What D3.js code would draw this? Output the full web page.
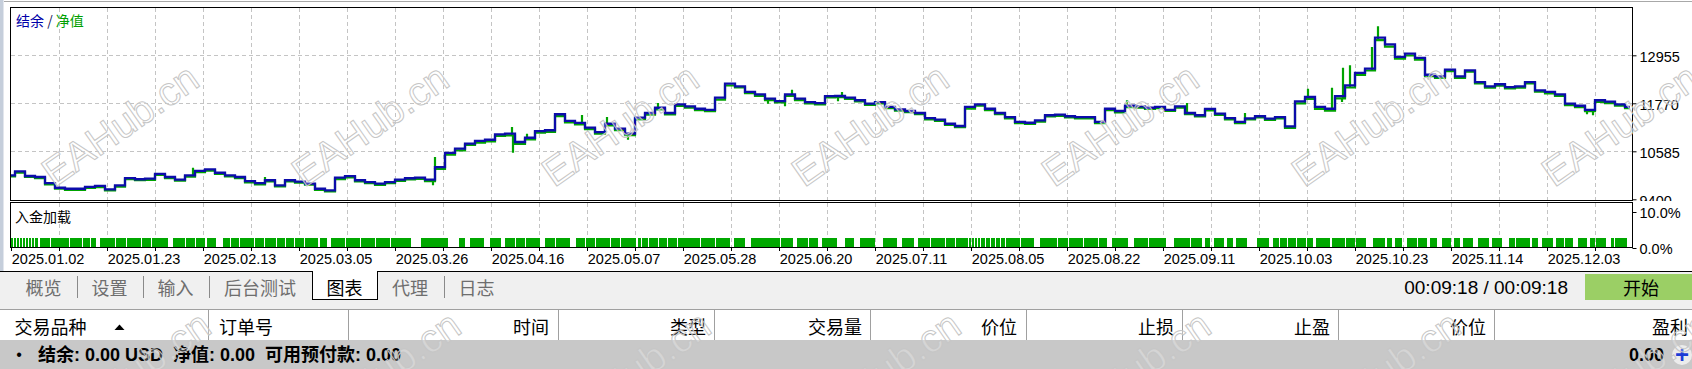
<!DOCTYPE html>
<html><head><meta charset="utf-8">
<script src="https://cdn.jsdelivr.net/npm/d3@7"></script>
<style>
html,body{margin:0;padding:0;background:#fff;}
svg{display:block;}
</style></head><body>
<svg id="c" width="1692" height="369"></svg>
<script>
// ---------- data ----------
const balance = [9990,10090,9975,9950,9800,9685,9660,9660,9705,9730,
9645,9745,9925,9895,9910,10030,9950,9885,9990,10100,
10140,10055,9990,9950,9850,9800,9870,9745,9870,9835,
9785,9660,9620,9935,9970,9870,9825,9785,9825,9885,
9920,9935,9885,10195,10545,10650,10775,10840,10870,11005,
11020,10815,10920,11085,11105,11500,11335,11285,11170,11060,
11265,11145,11020,11415,11530,11660,11530,11745,11695,11635,
11610,11910,12255,12190,12050,11990,11885,11825,11990,11885,
11800,11775,11945,11950,11910,11845,11760,11800,11680,11620,
11580,11530,11405,11365,11265,11210,11680,11745,11635,11530,
11430,11310,11290,11350,11475,11490,11450,11430,11430,11310,
11635,11580,11710,11695,11660,11680,11610,11695,11530,11475,
11630,11515,11405,11310,11400,11450,11390,11430,11200,11820,
11925,11680,11635,11945,12215,12520,12625,13390,13225,12915,
12995,12890,12475,12435,12600,12435,12585,12295,12190,12240,
12170,12190,12295,12090,12050,11990,11760,11710,11610,11845,
11810,11745,11680];
const equity = [9965,10060,9950,9925,9770,9660,9635,9635,9680,9700,
9620,9715,9895,9870,9880,10000,9925,9860,9960,10070,
10110,10030,9965,9925,9820,9770,9840,9720,9840,9810,
9760,9630,9595,9900,9940,9845,9800,9755,9800,9855,
9890,9905,9850,10150,10500,10610,10740,10800,10830,10965,
10980,10770,10880,11045,11065,11455,11300,11250,11130,11020,
11225,11110,10985,11370,11490,11620,11495,11705,11660,11600,
11575,11860,12210,12160,12020,11955,11850,11790,11955,11850,
11770,11745,11915,11920,11880,11815,11730,11770,11650,11590,
11550,11500,11375,11335,11235,11180,11640,11710,11600,11500,
11400,11280,11260,11320,11445,11460,11420,11400,11400,11280,
11600,11545,11675,11665,11630,11650,11580,11665,11500,11445,
11595,11485,11375,11280,11370,11420,11360,11400,11165,11770,
11880,11630,11590,11890,12160,12470,12580,13330,13170,12870,
12950,12850,12440,12400,12565,12400,12550,12260,12155,12205,
12135,12155,12260,12055,12015,11955,11725,11675,11575,11805,
11775,11710,11650];
const sampleStep = 10;          // deal-axis units between samples
const equitySpikes = [[183,10180],[255,9950],[423,9745],[425,10444],[502,11185],[503,10550],
[517,11020],[572,11481],[597,11432],[618,10871],[648,11777],[758,11760],[775,11696],[777,11943],
[782,12106],[828,11819],[832,12049],[1117,11844],[1177,11777],[1235,11530],[1298,12130],
[1322,12155],[1333,12649],[1332,11802],[1340,12708],[1362,13160],[1368,13671],[1577,11498],[1583,11474]];

const loadLevel = 2.9;
const loadRange = [0.7, 1617];
const loadGaps = [[3,4],[6,7],[9,10],[12,13],[15,16],[18,19],[21,22],[24,25],[28,30],
[40,41],[59,60],[72,73],[80,81],[86,89.5],[105,106],[116,117],[131,132],[141,142],[158,163],
[175,176],[185,186],[195,197],[206,213],[220,221],[229,230],[244,245],[254,255],[266,267],
[275,276],[284,285],[294,295],[308,310],[317,321],[335,336],[350,351],[365,366],[380,381],
[401,411],[438,449],[455,460],[474,480],[491,495],[505,506],[515,516],[530,535],[545,546],
[560,566],[575,576],[585,586],[600,601],[610,611],[626,628],[631,632],[638,639],[648,649],
[657,658],[667,668],[690,691],[705,706],[720,724],[735,741],[770,771],[783,787],[798,799],
[808,812],[827,835],[844,850],[865,873],[887,892],[904,908],[920,921],[935,936],[945,946],
[958,959],[961,962],[964,965],[967,968],[970,971],[975,976],[980,981],[985,986],[990,991],
[995,996],[1010,1011],[1024,1030],[1047,1048],[1058,1059],[1073,1074],[1088,1089],[1097,1102],
[1118,1124],[1138,1139],[1156,1164],[1180,1181],[1192,1195],[1200,1204],[1214,1217],[1223,1226],
[1237,1247],[1259,1263],[1269,1270],[1277,1278],[1286,1287],[1296,1297],[1303,1306],[1320,1322],
[1335,1336],[1345,1346],[1356,1363],[1375,1377],[1382,1385],[1392,1397],[1407,1408],[1417,1420],
[1427,1432],[1441,1444],[1450,1453],[1463,1468],[1479,1482],[1492,1499],[1505,1506],[1520,1522],
[1528,1532],[1543,1546],[1554,1555],[1563,1568],[1577,1580],[1585,1586],[1596,1601],[1604,1605]];

const dateLabels = ["2025.01.02","2025.01.23","2025.02.13","2025.03.05","2025.03.26","2025.04.16",
"2025.05.07","2025.05.28","2025.06.20","2025.07.11","2025.08.05","2025.08.22","2025.09.11",
"2025.10.03","2025.10.23","2025.11.14","2025.12.03"];
const dateTickStart = 1.3, dateTickEvery = 48, dateTickCount = 34;
const priceTicks = [9400, 10585, 11770, 12955];
const loadTicks = [0, 10];
const tabs = ["概览","设置","输入","后台测试","图表","代理","日志"];
const activeTab = "图表";
const timerText = "00:09:18 / 00:09:18";
const startLabel = "开始";
const columns = ["交易品种","订单号","时间","类型","交易量","价位","止损","止盈","价位","盈利"];
const statusText = "结余: 0.00 USD  净值: 0.00  可用预付款: 0.00";
const profitText = "0.00";
const watermark = "EAHub.cn";

// ---------- drawing ----------
const svg = d3.select("#c");
const W = 1692, H = 369;
const L = 10.5, R = 1632.5, T = 7.5, B = 200.5;   // main pane
const PT = 202.5, PB = 247.5;                     // load pane
const BLUE = "#0c0caa", GREEN = "#00a300";
const CJK = "'Noto Sans CJK SC', sans-serif";
const LAT = "'Liberation Sans', 'Noto Sans CJK SC', sans-serif";

const x = d3.scaleLinear().domain([0, 1620]).range([10, 1630]);
const y = d3.scaleLinear().domain([9400, 12955]).range([199.3, 55.3]);
const yl = d3.scaleLinear().domain([0, 10]).range([248, 212]);
const tickT = d3.range(dateTickCount).map(i => dateTickStart + dateTickEvery * i);

// window chrome
svg.append("rect").attr("x",0).attr("y",0).attr("width",W).attr("height",H).attr("fill","#fff");
svg.append("rect").attr("x",0).attr("y",0).attr("width",3.5).attr("height",309).attr("fill","#c5cedb");
svg.append("line").attr("x1",4).attr("x2",W).attr("y1",1.5).attr("y2",1.5).attr("stroke","#a8a8a8");

const defs = svg.append("defs");
defs.append("clipPath").attr("id","mainClip").append("rect")
  .attr("x",L).attr("y",T).attr("width",R-L).attr("height",B-T);
defs.append("clipPath").attr("id","axClip").append("rect")
  .attr("x",R).attr("y",0).attr("width",W-R).attr("height",201);

// grids
const grid = svg.append("g").attr("stroke","#c4c4c4").attr("stroke-dasharray","4,3")
  .attr("shape-rendering","crispEdges");
grid.selectAll(".vg").data(tickT.slice(1)).join("line")
  .attr("x1",d=>Math.round(x(d))+0.5).attr("x2",d=>Math.round(x(d))+0.5)
  .attr("y1",T).attr("y2",B);
grid.selectAll(".vg2").data(tickT.slice(1)).join("line").attr("class","vg2")
  .attr("x1",d=>Math.round(x(d))+0.5).attr("x2",d=>Math.round(x(d))+0.5)
  .attr("y1",PT).attr("y2",PB);
grid.selectAll(".hg").data(priceTicks.slice(1)).join("line").attr("class","hg")
  .attr("x1",L).attr("x2",R)
  .attr("y1",d=>Math.round(y(d))+0.5).attr("y2",d=>Math.round(y(d))+0.5);

// lines
const plot = svg.append("g").attr("clip-path","url(#mainClip)");
const line = d3.line().x((d,i)=>x(i*sampleStep)).y(d=>y(d)).curve(d3.curveStep);
plot.append("path").datum(equity).attr("d",line).attr("fill","none")
  .attr("stroke",GREEN).attr("stroke-width",2.2);
plot.selectAll(".sp").data(equitySpikes).join("line")
  .attr("x1",d=>x(d[0])).attr("x2",d=>x(d[0]))
  .attr("y1",d=>y(equity[Math.min(equity.length-1,Math.round(d[0]/sampleStep))]))
  .attr("y2",d=>y(d[1]))
  .attr("stroke",GREEN).attr("stroke-width",2.2);
plot.append("path").datum(balance).attr("d",line).attr("fill","none")
  .attr("stroke",BLUE).attr("stroke-width",2.3).attr("stroke-linejoin","miter");

// legend
const leg = svg.append("text").attr("x",16).attr("y",20).attr("dominant-baseline","central")
  .attr("font-family",CJK).attr("font-size",14);
leg.append("tspan").attr("fill","#0000a8").text("结余");
leg.append("tspan").attr("fill","#202060").text(" / ");
leg.append("tspan").attr("fill","#00a000").text("净值");

// load bars
const segs = []; let cur = loadRange[0];
loadGaps.forEach(([a,b]) => { if (a > cur) segs.push([cur,a]); cur = Math.max(cur,b); });
if (cur < loadRange[1]) segs.push([cur, loadRange[1]]);
svg.append("g").attr("shape-rendering","crispEdges").selectAll("rect").data(segs).join("rect")
  .attr("x",d=>x(d[0])).attr("width",d=>Math.max(0.8,x(d[1])-x(d[0])))
  .attr("y",yl(loadLevel)).attr("height",yl(0)-yl(loadLevel)-0.5).attr("fill","#00a800");

svg.append("text").attr("x",15).attr("y",216).attr("dominant-baseline","central")
  .attr("font-family",CJK).attr("font-size",14).attr("fill","#000").text("入金加载");

// frames
svg.append("rect").attr("x",L).attr("y",T).attr("width",R-L).attr("height",B-T)
  .attr("fill","none").attr("stroke","#000").attr("shape-rendering","crispEdges");
svg.append("rect").attr("x",L).attr("y",PT).attr("width",R-L).attr("height",PB-PT)
  .attr("fill","none").attr("stroke","#000").attr("shape-rendering","crispEdges");

// right price axis (clipped at the pane divider, like the reference)
const axWrap = svg.append("g").attr("clip-path","url(#axClip)");
const ax1 = axWrap.append("g").attr("transform",`translate(${R},0)`)
  .call(d3.axisRight(y).tickValues(priceTicks).tickSize(4).tickPadding(3).tickFormat(d=>d));
ax1.select(".domain").remove();
ax1.selectAll("text").attr("font-family",LAT).attr("font-size",14.5).attr("fill","#000").attr("dy","0.42em");
ax1.selectAll("line").attr("stroke","#000");

// right load axis
const ax2 = svg.append("g").attr("transform",`translate(${R},0)`)
  .call(d3.axisRight(yl).tickValues(loadTicks).tickSize(4).tickPadding(3).tickFormat(d=>d.toFixed(1)+"%"));
ax2.select(".domain").remove();
ax2.selectAll("text").attr("font-family",LAT).attr("font-size",14.5).attr("fill","#000").attr("dy","0.36em");
ax2.selectAll("line").attr("stroke","#000");

// date axis
const ax3 = svg.append("g").attr("transform",`translate(0,${PB+0.5})`)
  .call(d3.axisBottom(x).tickValues(tickT).tickSize(3).tickPadding(3)
    .tickFormat((d,i)=> i%2===0 ? (dateLabels[i/2]||"") : ""));
ax3.select(".domain").remove();
ax3.selectAll("line").attr("stroke","#000").attr("shape-rendering","crispEdges");
ax3.selectAll("text").attr("font-family",LAT).attr("font-size",14.5).attr("fill","#000")
  .attr("text-anchor","start").attr("x",0);

// ---------- tab bar ----------
svg.append("rect").attr("x",0).attr("y",271).attr("width",W).attr("height",38).attr("fill","#f0f0f0");
svg.append("line").attr("x1",0).attr("x2",W).attr("y1",271.5).attr("y2",271.5).attr("stroke","#000");
const tabCenters = [43.5,109.5,175.5,260,344.5,410,476.5];
const tabSeps = [77.5,143.5,209.5,444.5];
svg.append("rect").attr("x",312.5).attr("y",271.5).attr("width",65).attr("height",28)
  .attr("fill","#fff").attr("stroke","#000").attr("shape-rendering","crispEdges");
svg.append("line").attr("x1",313).attr("x2",377).attr("y1",271.5).attr("y2",271.5).attr("stroke","#fff");
svg.selectAll(".tsep").data(tabSeps).join("line").attr("class","tsep")
  .attr("x1",d=>d).attr("x2",d=>d).attr("y1",276).attr("y2",298).attr("stroke","#8a8a8a");
svg.selectAll(".tab").data(tabs).join("text").attr("class","tab")
  .attr("x",(d,i)=>tabCenters[i]).attr("y",287).attr("text-anchor","middle")
  .attr("dominant-baseline","central").attr("font-family",CJK).attr("font-size",18)
  .attr("fill",d=>d===activeTab?"#000":"#6e6e6e").text(d=>d);
svg.append("text").attr("x",1568).attr("y",287).attr("text-anchor","end").attr("dominant-baseline","central")
  .attr("font-family",LAT).attr("font-size",19).attr("fill","#000").text(timerText);
svg.append("rect").attr("x",1585).attr("y",274).attr("width",W-1585).attr("height",26).attr("fill","#9bcf65");
svg.append("text").attr("x",1641).attr("y",287).attr("text-anchor","middle").attr("dominant-baseline","central")
  .attr("font-family",CJK).attr("font-size",18).attr("fill","#000").text(startLabel);

// ---------- table ----------
svg.append("line").attr("x1",0).attr("x2",W).attr("y1",309.5).attr("y2",309.5).attr("stroke","#a0a0a0");
const colSeps = [208.5,348.5,558.5,714.5,870.5,1026.5,1182.5,1338.5,1494.5];
svg.selectAll(".csep").data(colSeps).join("line").attr("class","csep")
  .attr("x1",d=>d).attr("x2",d=>d).attr("y1",310).attr("y2",340).attr("stroke","#a0a0a0");
const colX = [14.5,219,549,706,862,1017,1174,1330,1486,1688];
const colAnchor = ["start","start","end","end","end","end","end","end","end","end"];
svg.selectAll(".col").data(columns).join("text").attr("class","col")
  .attr("x",(d,i)=>colX[i]).attr("y",326).attr("text-anchor",(d,i)=>colAnchor[i])
  .attr("dominant-baseline","central").attr("font-family",CJK).attr("font-size",18)
  .attr("fill","#000").text(d=>d);
svg.append("path").attr("d","M114.5,330 L119.5,324.5 L124.5,330 Z").attr("fill","#000");

svg.append("rect").attr("x",0).attr("y",340).attr("width",W).attr("height",29).attr("fill","#c8c8c8");
svg.append("text").attr("x",19).attr("y",354).attr("text-anchor","middle").attr("dominant-baseline","central")
  .attr("font-family",LAT).attr("font-size",16).attr("fill","#000").text("•");
svg.append("text").attr("x",38).attr("y",355).attr("dominant-baseline","central")
  .attr("font-family",LAT).attr("font-weight","bold").attr("font-size",18).attr("fill","#000")
  .attr("xml:space","preserve").style("white-space","pre").text(statusText);
svg.append("text").attr("x",1664).attr("y",355).attr("text-anchor","end").attr("dominant-baseline","central")
  .attr("font-family",LAT).attr("font-weight","bold").attr("font-size",18).attr("fill","#000").text(profitText);
svg.append("circle").attr("cx",1682).attr("cy",355).attr("r",10).attr("fill","#ececec");
svg.append("text").attr("x",1682).attr("y",354).attr("text-anchor","middle").attr("dominant-baseline","central")
  .attr("font-family",LAT).attr("font-weight","bold").attr("font-size",24).attr("fill","#1c3cd6").text("+");

// ---------- watermark ----------
const wmX = d3.range(7).map(i => 120 + 250 * i);
const wmRows = [[0,125],[12,372]];
const wm = svg.append("g").attr("pointer-events","none");
wmRows.forEach(([dx,ry]) => {
  wm.selectAll(null).data(wmX).join("text")
    .attr("transform",d=>`translate(${d+dx},${ry}) rotate(-35)`)
    .attr("text-anchor","middle").attr("dominant-baseline","central")
    .attr("font-family",LAT).attr("font-size",40)
    .attr("fill","rgba(255,255,255,0.25)").attr("stroke","#c6c6c6").attr("stroke-width",1)
    .text(watermark);
});
</script>
</body></html>
